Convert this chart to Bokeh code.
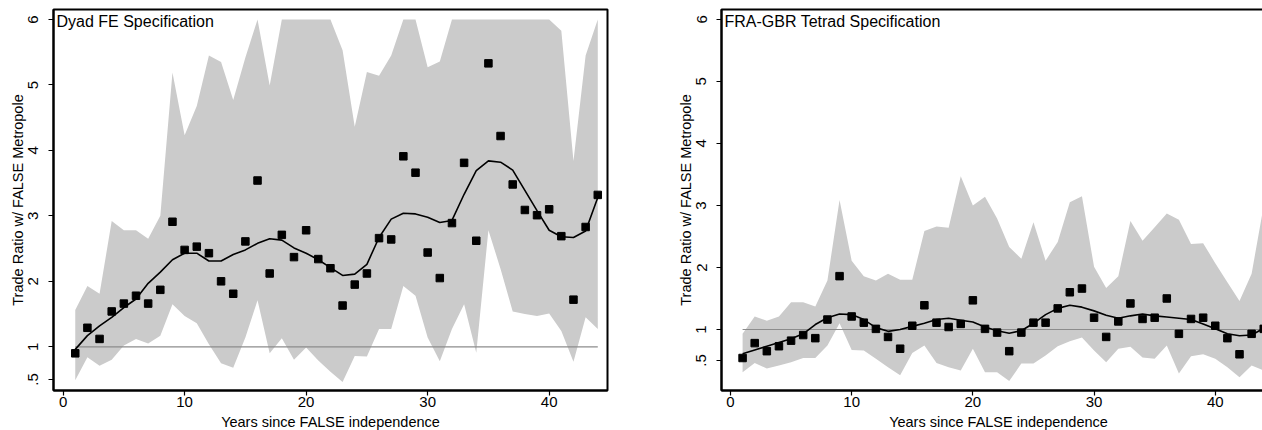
from bokeh.plotting import figure
from bokeh.layouts import row
from bokeh.models import FixedTicker, Range1d, Label, ColumnDataSource
from bokeh.embed import file_html
from bokeh.resources import INLINE

years = list(range(1, 45))

x_ticks = [0, 10, 20, 30, 40]
y_ticks = [0.5, 1, 2, 3, 4, 5, 6]
y_tick_labels = {0.5: ".5", 1: "1", 2: "2", 3: "3", 4: "4", 5: "5", 6: "6"}

x_title = "Years since FALSE independence"
y_title = "Trade Ratio w/ FALSE Metropole"

dyad_title = "Dyad FE Specification"
dyad_point = [0.90, 1.29, 1.12, 1.54, 1.66, 1.78, 1.66, 1.87, 2.91, 2.48,
              2.53, 2.43, 2.00, 1.81, 2.61, 3.54, 2.12, 2.71, 2.37, 2.78,
              2.34, 2.20, 1.63, 1.95, 2.12, 2.66, 2.64, 3.91, 3.66, 2.44,
              2.05, 2.89, 3.81, 2.62, 5.33, 4.22, 3.48, 3.09, 3.01, 3.10,
              2.69, 1.72, 2.83, 3.32]
dyad_smooth = [0.96, 1.17, 1.32, 1.45, 1.60, 1.73, 1.97, 2.14, 2.33, 2.43,
               2.43, 2.31, 2.31, 2.41, 2.48, 2.58, 2.65, 2.63, 2.51, 2.43,
               2.33, 2.21, 2.09, 2.11, 2.26, 2.67, 2.95, 3.04, 3.03, 2.98,
               2.90, 2.93, 3.33, 3.69, 3.84, 3.82, 3.70, 3.39, 3.08, 2.78,
               2.68, 2.67, 2.77, 3.28]
dyad_upper = [1.56, 1.93, 1.81, 2.92, 2.78, 2.78, 2.65, 3.00, 5.19, 4.23,
              4.68, 5.45, 5.35, 4.77, 5.42, 6.00, 4.99, 6.00, 6.00, 6.00,
              6.00, 6.00, 5.53, 4.36, 5.20, 5.14, 5.45, 6.00, 6.00, 5.27,
              5.36, 6.00, 6.00, 6.00, 6.00, 6.00, 6.00, 6.00, 6.00, 6.00,
              5.83, 3.84, 5.45, 6.00]
dyad_lower = [0.49, 0.84, 0.71, 0.80, 1.02, 1.12, 1.05, 1.17, 1.65, 1.47,
              1.36, 1.04, 0.75, 0.68, 1.14, 1.71, 0.90, 1.13, 0.80, 0.99,
              0.79, 0.62, 0.46, 0.86, 0.85, 1.27, 1.27, 1.93, 1.78, 1.14,
              0.78, 1.27, 1.65, 0.91, 2.78, 2.19, 1.54, 1.50, 1.47, 1.51,
              1.24, 0.77, 1.45, 1.27]

tetrad_title = "FRA-GBR Tetrad Specification"
tetrad_point = [0.54, 0.78, 0.65, 0.73, 0.82, 0.91, 0.86, 1.16, 1.86, 1.21,
                1.11, 1.01, 0.88, 0.69, 1.06, 1.39, 1.11, 1.04, 1.09, 1.47,
                1.01, 0.95, 0.65, 0.95, 1.11, 1.11, 1.34, 1.60, 1.66, 1.19,
                0.88, 1.13, 1.42, 1.17, 1.19, 1.50, 0.93, 1.17, 1.19, 1.06,
                0.86, 0.60, 0.93, 1.01]
tetrad_smooth = [0.61, 0.67, 0.73, 0.79, 0.85, 0.93, 1.08, 1.19, 1.25, 1.24,
                 1.16, 1.03, 0.97, 1.00, 1.05, 1.10, 1.16, 1.18, 1.15, 1.12,
                 1.04, 0.98, 0.94, 0.98, 1.10, 1.24, 1.34, 1.39, 1.36, 1.30,
                 1.23, 1.18, 1.22, 1.25, 1.22, 1.20, 1.18, 1.16, 1.09, 1.01,
                 0.93, 0.90, 0.91, 1.02]
tetrad_upper = [0.93, 1.21, 1.14, 1.21, 1.44, 1.44, 1.37, 1.79, 3.09, 2.11,
                1.86, 1.79, 1.90, 1.80, 1.80, 2.59, 2.66, 2.64, 3.47, 3.00,
                3.14, 2.79, 2.33, 2.14, 2.73, 2.11, 2.41, 3.05, 3.15, 2.01,
                1.67, 1.86, 2.75, 2.43, 2.65, 2.87, 2.77, 2.38, 2.39, 2.07,
                1.76, 1.46, 1.90, 3.00]
tetrad_lower = [0.31, 0.46, 0.37, 0.42, 0.47, 0.54, 0.54, 0.74, 1.10, 0.67,
                0.66, 0.53, 0.39, 0.26, 0.62, 0.74, 0.46, 0.39, 0.34, 0.69,
                0.31, 0.31, 0.17, 0.45, 0.45, 0.58, 0.73, 0.81, 0.87, 0.66,
                0.47, 0.69, 0.72, 0.55, 0.53, 0.74, 0.29, 0.57, 0.60, 0.53,
                0.39, 0.23, 0.42, 0.34]

ref_value = 1.0

FONT = "Liberation Sans"
BAND = "#cbcbcb"


def make_panel(title, point, smooth, lower, upper, x_range, y_range,
               border_left, border_right):
    p = figure(output_backend="svg", toolbar_location=None,
               frame_width=554, frame_height=381,
               x_range=Range1d(*x_range), y_range=Range1d(*y_range),
               min_border_left=border_left, min_border_right=border_right,
               min_border_top=9, min_border_bottom=20,
               background_fill_color="white", border_fill_color="white")
    p.grid.visible = False
    p.outline_line_color = "black"
    p.outline_line_width = 2
    p.outline_line_alpha = 1.0

    src = ColumnDataSource(dict(x=years, point=point, smooth=smooth,
                                lower=lower, upper=upper))
    p.varea(x="x", y1="lower", y2="upper", source=src, fill_color=BAND)
    p.segment(x0=years[0], x1=years[-1], y0=ref_value, y1=ref_value,
              line_color="#8c8c8c", line_width=1.2)
    p.scatter(x="x", y="point", source=src, marker="square", size=7.5,
              fill_color="black", line_color="black")
    p.line(x="x", y="smooth", source=src, line_color="black", line_width=1.6)

    p.xaxis.ticker = FixedTicker(ticks=x_ticks, minor_ticks=[])
    p.yaxis.ticker = FixedTicker(ticks=y_ticks, minor_ticks=[])
    p.yaxis.major_label_overrides = y_tick_labels
    p.yaxis.major_label_orientation = "vertical"

    for ax in (p.xaxis, p.yaxis):
        ax.axis_line_color = "black"
        ax.axis_line_width = 2
        ax.major_tick_line_color = "black"
        ax.major_tick_line_width = 1.2
        ax.major_tick_out = 5
        ax.major_tick_in = 0
        ax.minor_tick_out = 0
        ax.minor_tick_in = 0
        ax.major_label_text_font = FONT
        ax.major_label_text_font_size = "15px"
        ax.major_label_text_color = "black"
        ax.axis_label_text_font = FONT
        ax.axis_label_text_font_size = "14.5px"
        ax.axis_label_text_font_style = "normal"
        ax.axis_label_text_color = "black"
    p.xaxis.major_label_standoff = 1
    p.xaxis.axis_label_standoff = 4
    p.yaxis.major_label_standoff = 10
    p.yaxis.axis_label_standoff = 0
    p.xaxis.axis_label = x_title
    p.yaxis.axis_label = y_title

    p.add_layout(Label(x=x_range[0], y=y_range[1], text=title,
                       text_baseline="top", text_align="left",
                       x_offset=3, y_offset=-3,
                       text_font=FONT, text_font_size="16px",
                       text_color="black"))
    return p


left = make_panel(dyad_title, dyad_point, dyad_smooth, dyad_lower, dyad_upper,
                  (-0.79, 44.8), (0.332, 6.153), 53, 67)
right = make_panel(tetrad_title, tetrad_point, tetrad_smooth, tetrad_lower,
                   tetrad_upper, (-0.74, 44.97), (0.016, 6.16), 45, 0)

page = row(left, right)
open("out.html", "w").write(file_html(page, INLINE))
